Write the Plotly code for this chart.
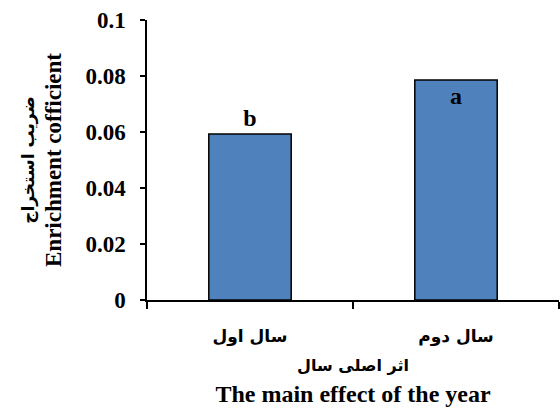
import plotly.graph_objects as go

categories = ["سال اول", "سال دوم"]
values = [0.0593, 0.0786]
letters = ["b", "a"]
y_ticks = [0, 0.02, 0.04, 0.06, 0.08, 0.1]
y_tick_labels = ["0", "0.02", "0.04", "0.06", "0.08", "0.1"]

FONT = "Liberation Serif, DejaVu Serif, serif"
AR_FONT = "DejaVu Sans, Noto Sans, sans-serif"

fig = go.Figure()
fig.add_trace(go.Bar(
    x=categories, y=values,
    marker=dict(color="#4F81BD", line=dict(color="black", width=1.5)),
    text=letters,
    textposition=["outside", "inside"],
    insidetextanchor="end",
    textfont=dict(family=FONT, size=24, color="black"),
    texttemplate="<b>%{text}</b>",
    cliponaxis=False,
    width=0.4,
))

fig.update_layout(
    width=560, height=414,
    margin=dict(l=147, r=1, t=20, b=114),
    plot_bgcolor="white", paper_bgcolor="white",
    showlegend=False,
    font=dict(family=FONT, color="black"),
    uniformtext=dict(mode=False),
)
fig.update_yaxes(
    automargin=False,
    range=[0, 0.1], tickvals=y_ticks, ticktext=["<b>%s</b>" % t for t in y_tick_labels],
    showgrid=False, zeroline=False,
    showline=True, linecolor="black", linewidth=1.5,
    ticks="outside", ticklen=5, tickcolor="black", tickwidth=1.5,
    ticklabelstandoff=10,
    tickfont=dict(family=FONT, size=23, color="black"),
    title=dict(text="<span style='font-family:DejaVu Sans;font-size:17px'><b>ضریب استخراج</b></span><br><span style='font-size:23px'><b>Enrichment cofficient</b></span>",
               font=dict(family=FONT, size=21, color="black"), standoff=18),
)
fig.update_xaxes(
    automargin=False,
    range=[-0.5, 1.5], tickson="boundaries",
    tickvals=categories, ticktext=["<b>%s</b>" % c for c in categories],
    showgrid=False, zeroline=False,
    showline=True, linecolor="black", linewidth=1.5,
    ticks="outside", ticklen=7, tickcolor="black", tickwidth=1.5,
    ticklabelstandoff=20,
    tickfont=dict(family=AR_FONT, size=17, color="black"),
    title=dict(text="<span style='font-family:DejaVu Sans;font-size:16px'><b>اثر اصلی سال</b></span><br><b>The main effect of the year</b>",
               font=dict(family=FONT, size=24, color="black"), standoff=8),
)

fig.write_html("out.html", config={"displayModeBar": False},
               post_script="document.body.style.margin='0';")
